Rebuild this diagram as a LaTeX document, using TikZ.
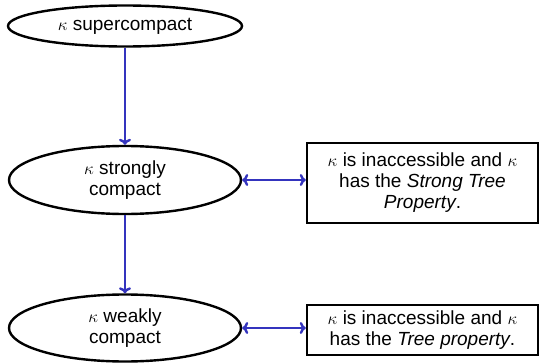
\documentclass[tikz,border=0pt]{standalone}
\usepackage{fontspec}
\setmainfont{Liberation Sans}
\usetikzlibrary{shapes.geometric,arrows.meta}
\definecolor{linkblue}{RGB}{52,52,190}
\tikzset{
  labelfont/.style={font=\fontsize{19}{21}\selectfont},
  state/.style={ellipse, draw=black, line width=2.4pt, inner sep=0pt, align=center, labelfont},
  factbox/.style={rectangle, draw=black, line width=2.4pt, inner sep=0pt, align=center,
    minimum width=231pt, labelfont},
  impl/.style={draw=linkblue, line width=2.4pt, -{To[length=6pt,width=12pt]}},
  equiv/.style={draw=linkblue, line width=2.4pt, {To[length=6pt,width=12pt]}-{To[length=6pt,width=12pt]}}
}
\begin{document}
\begin{tikzpicture}[x=1pt, y=-1pt]
  \useasboundingbox (0,0) rectangle (544,364);

  \node[state, minimum width=234pt, minimum height=41pt] (sc) at (125,26) {$\kappa$ supercompact};
  \node[state, minimum width=232pt, minimum height=68pt] (strong) at (125,180) {$\kappa$ strongly\\compact};
  \node[state, minimum width=232pt, minimum height=67pt] (weak) at (125,328) {$\kappa$ weakly\\compact};

  \node[factbox, minimum height=80pt] (stp) at (422.5,183)
    {$\kappa$ is inaccessible and $\kappa$\\has the \textit{Strong Tree}\\\textit{Property}.};
  \node[factbox, minimum height=50pt] (tp) at (422.5,330)
    {$\kappa$ is inaccessible and $\kappa$\\has the \textit{Tree property}.};

  \draw[impl] (sc) -- (strong);
  \draw[impl] (strong) -- (weak);
  \draw[equiv] (strong.east) -- (strong.east -| stp.west);
  \draw[equiv] (weak.east) -- (weak.east -| tp.west);
\end{tikzpicture}
\end{document}
